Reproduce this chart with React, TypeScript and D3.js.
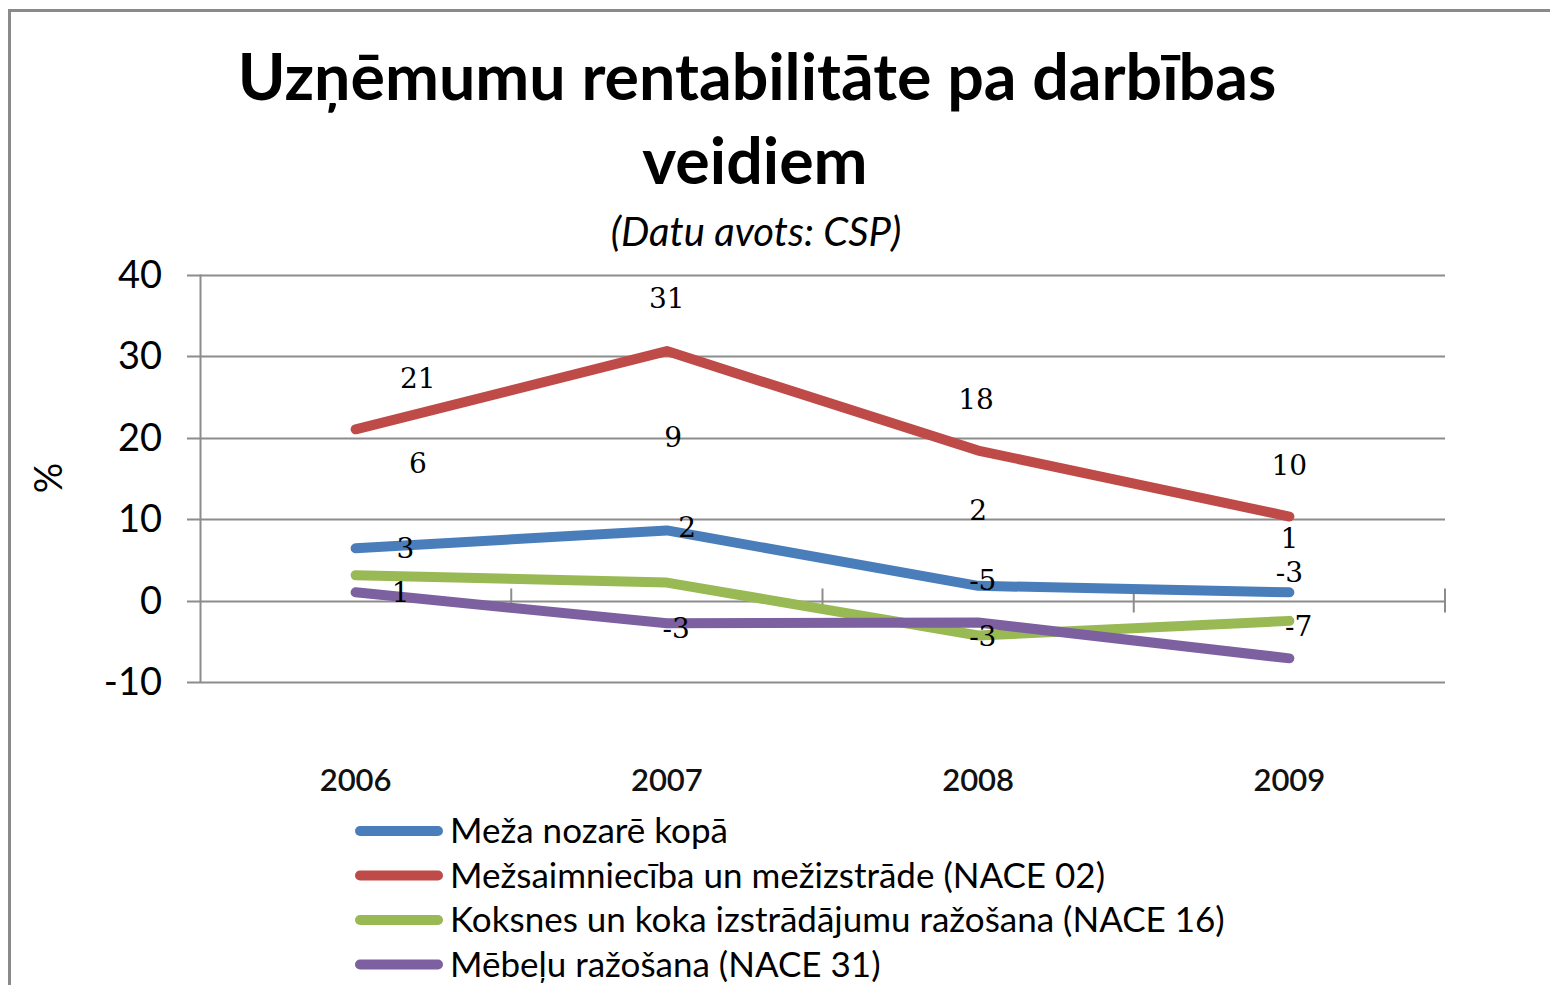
import React, { useEffect, useRef } from "react";
import * as d3 from "d3";

const categories = ["2006", "2007", "2008", "2009"];
const seriesNames = [
  "Meža nozarē kopā",
  "Mežsaimniecība un mežizstrāde (NACE 02)",
  "Koksnes un koka izstrādājumu ražošana (NACE 16)",
  "Mēbeļu ražošana (NACE 31)",
];
const seriesColors = ["#4A7EBB", "#BE4B48", "#98B954", "#7D60A0"];
const blueValues = [6.4, 8.6, 1.8, 1.0];
const redValues = [21.0, 30.6, 18.4, 10.3];
const greenValues = [3.1, 2.2, -4.3, -2.5];
const purpleValues = [1.0, -2.8, -2.7, -7.1];
// printed data labels (as shown in the source)
const blueLabels = ["6", "9", "2", "1"];
const redLabels = ["21", "31", "18", "10"];
const greenLabels = ["3", "2", "-5", "-3"];
const purpleLabels = ["1", "-3", "-3", "-7"];
// label anchor positions in data space (value units) and category offsets (band fraction)
const blueLabelY = [16.8, 20.0, 11.1, 7.6];
const redLabelY = [27.3, 37.1, 24.7, 16.6];
const greenLabelY = [6.4, 9.0, 2.5, 3.5];
const purpleLabelY = [1.0, -3.4, -4.4, -3.1];
const blueLabelDx = [0.2, 0.02, 0, 0];
const redLabelDx = [0.2, 0, -0.007, 0];
const greenLabelDx = [0.16, 0.065, 0.015, 0];
const purpleLabelDx = [0.145, 0.03, 0.015, 0.03];
const yTicks = [-10, 0, 10, 20, 30, 40];

const W = 1550;
const H = 985;

export default function App() {
  const ref = useRef<SVGSVGElement>(null);
  useEffect(() => {
    const svg = d3.select(ref.current);
    svg.selectAll("*").remove();
    svg.append("rect").attr("width", W).attr("height", H).attr("fill", "#fff");
    // frame
    svg.append("path").attr("d", `M9.5,${H} L9.5,10.5 L${W},10.5`).attr("fill", "none").attr("stroke", "#8a8a8a").attr("stroke-width", 3);

    const plotL = 200, plotR = 1445, plotT = 274.5, plotB = 682;
    const x = d3.scaleBand<string>().domain(categories).range([plotL, plotR]).padding(0);
    const y = d3.scaleLinear().domain([-10, 40]).range([plotB, plotT]);
    const cx = (c: string) => (x(c) as number) + x.bandwidth() / 2;

    const calibri = "Lato, 'Open Sans', sans-serif";
    // title
    svg.append("text").attr("x", 757).attr("y", 100).attr("text-anchor", "middle")
      .attr("font-family", calibri).attr("font-weight", "bold").attr("font-size", 64.5)
      .text("Uzņēmumu rentabilitāte pa darbības");
    svg.append("text").attr("x", 755).attr("y", 184).attr("text-anchor", "middle")
      .attr("font-family", calibri).attr("font-weight", "bold").attr("font-size", 64.5)
      .text("veidiem");
    svg.append("text").attr("x", 756).attr("y", 246).attr("text-anchor", "middle")
      .attr("font-family", calibri).attr("font-style", "italic").attr("font-size", 40)
      .text("(Datu avots: CSP)");

    // gridlines
    const g = svg.append("g");
    yTicks.forEach((t) => {
      g.append("line").attr("x1", plotL - 13).attr("x2", plotR).attr("y1", Math.round(y(t)) + 0.5).attr("y2", Math.round(y(t)) + 0.5)
        .attr("stroke", "#8c8c8c").attr("stroke-width", 2);
      g.append("text").attr("x", 162).attr("y", y(t)).attr("dy", "0.35em").attr("text-anchor", "end")
        .attr("font-family", calibri).attr("font-size", 38).attr("fill", "#000").text(String(t));
    });
    // y axis line
    g.append("line").attr("x1", plotL + 0.5).attr("x2", plotL + 0.5).attr("y1", plotT).attr("y2", plotB)
      .attr("stroke", "#8c8c8c").attr("stroke-width", 2);
    // x-axis category tick marks at zero line
    const boundaries = categories.map((c) => (x(c) as number) + x.bandwidth());
    boundaries.forEach((bx) => {
      g.append("line").attr("x1", bx).attr("x2", bx).attr("y1", y(0) - 12).attr("y2", y(0) + 12)
        .attr("stroke", "#8c8c8c").attr("stroke-width", 2);
    });
    // y label
    svg.append("text").attr("transform", `translate(62,478) rotate(-90)`).attr("text-anchor", "middle")
      .attr("font-family", calibri).attr("font-size", 38).text("%");
    // x labels
    categories.forEach((c) => {
      svg.append("text").attr("x", cx(c)).attr("y", 791).attr("text-anchor", "middle")
        .attr("font-family", calibri).attr("font-size", 31).attr("font-weight", 600).attr("fill", "#111").text(c);
    });

    const all = [blueValues, redValues, greenValues, purpleValues];
    const labels = [blueLabels, redLabels, greenLabels, purpleLabels];
    const labelYs = [blueLabelY, redLabelY, greenLabelY, purpleLabelY];
    const labelDxs = [blueLabelDx, redLabelDx, greenLabelDx, purpleLabelDx];
    const line = d3.line<number>().x((_, i) => cx(categories[i])).y((d) => y(d));
    all.forEach((vals, s) => {
      svg.append("path").attr("d", line(vals) as string).attr("fill", "none")
        .attr("stroke", seriesColors[s]).attr("stroke-width", 10)
        .attr("stroke-linecap", "round").attr("stroke-linejoin", "round");
    });
    all.forEach((vals, s) => {
      vals.forEach((_, i) => {
        svg.append("text").attr("x", cx(categories[i]) + labelDxs[s][i] * x.bandwidth())
          .attr("y", y(labelYs[s][i])).attr("dy", "0.35em").attr("text-anchor", "middle")
          .attr("font-family", "'DejaVu Serif', 'Liberation Serif', serif").attr("font-size", 28)
          .text(labels[s][i]);
      });
    });

    // legend
    seriesNames.forEach((n, i) => {
      const ly = 831 + i * 44.5;
      svg.append("line").attr("x1", 360).attr("x2", 438).attr("y1", ly).attr("y2", ly)
        .attr("stroke", seriesColors[i]).attr("stroke-width", 10).attr("stroke-linecap", "round");
      svg.append("text").attr("x", 450).attr("y", ly).attr("dy", "0.35em")
        .attr("font-family", calibri).attr("font-size", 35).attr("fill", "#000").text(n);
    });
  }, []);
  return (
    <svg ref={ref} width={W} height={H} style={{ position: "absolute", left: 0, top: 0, display: "block" }} />
  );
}
